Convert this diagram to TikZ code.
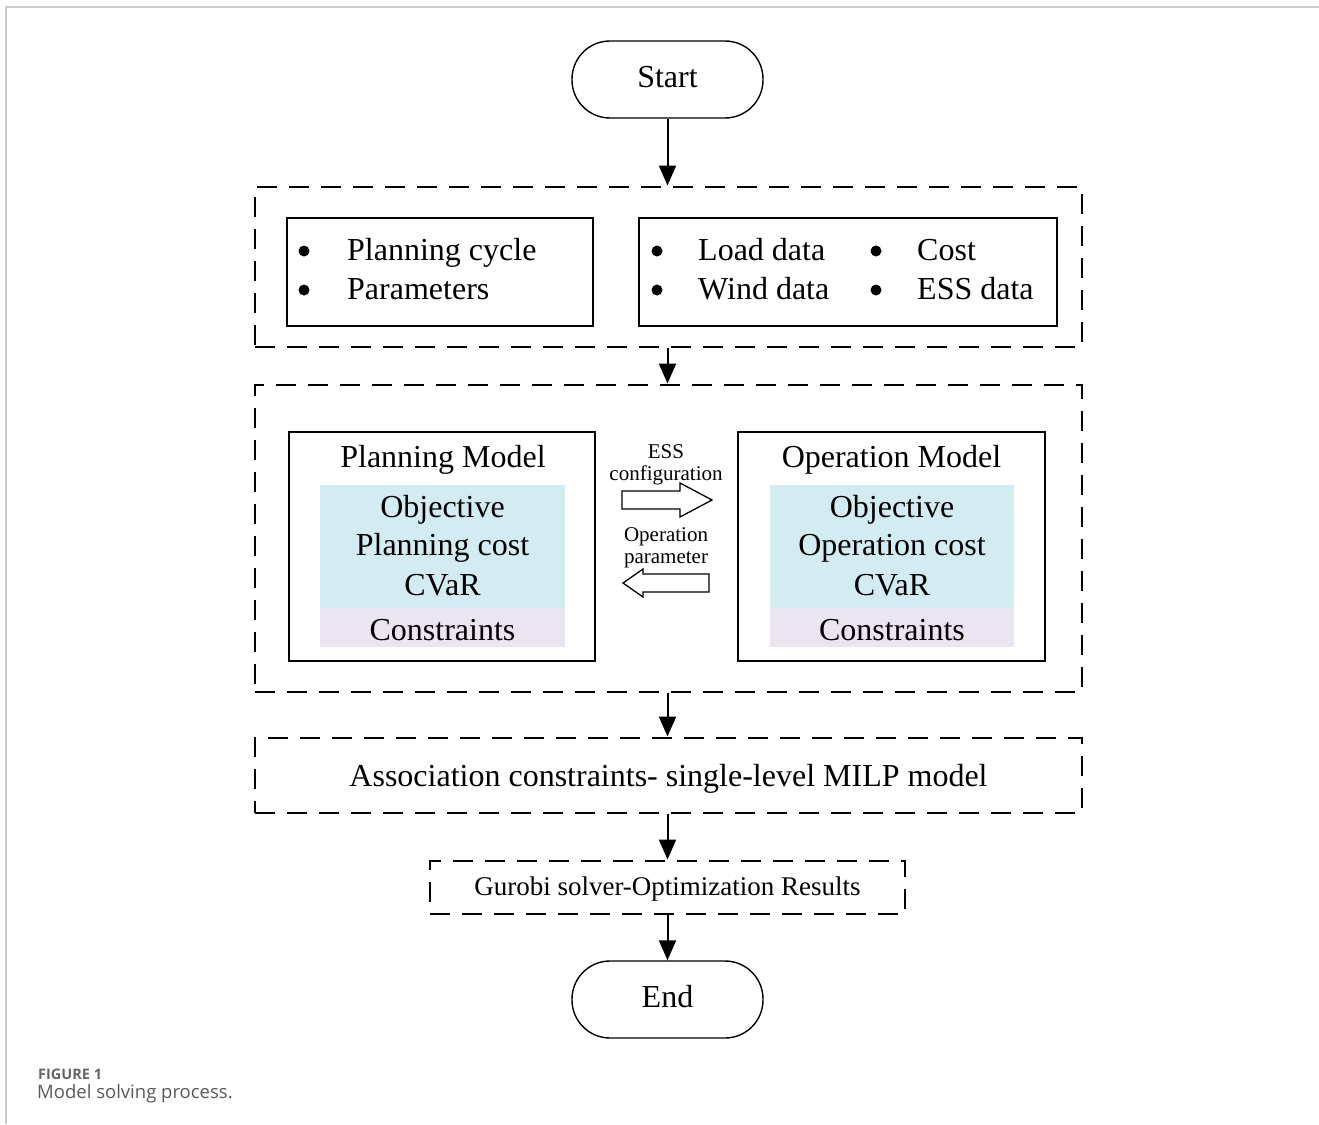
\documentclass[tikz,border=0pt]{standalone}
\usepackage{fontspec}
\setmainfont{Liberation Serif}
\newfontfamily\capfont{Open Sans}
\usetikzlibrary{arrows.meta,calc}
\definecolor{objcol}{RGB}{211,236,241}
\definecolor{concol}{RGB}{234,229,241}
\definecolor{framecol}{RGB}{204,204,204}
\begin{document}
\begin{tikzpicture}[x=1pt,y=-1pt,
  dbox/.style={draw, line width=2.9pt, dash pattern=on 20pt off 12pt, inner sep=0pt},
  sbox/.style={draw, line width=1.4pt, inner sep=0pt},
  term/.style={draw, line width=1.4pt, rounded corners=38pt, minimum width=191pt, minimum height=77pt, inner sep=0pt},
  arr/.style={line width=2pt, -{Triangle[length=20pt,width=17pt]}},
  txt/.style={anchor=base, inner sep=0pt, font=\fontsize{32}{38}\selectfont},
  ltxt/.style={anchor=base west, inner sep=0pt, font=\fontsize{32}{38}\selectfont},
  stxt/.style={anchor=base, inner sep=0pt, font=\fontsize{21}{25}\selectfont},
  bul/.style={circle, fill, inner sep=0pt, minimum size=11pt},
  hollow/.style={draw, line width=1.3pt, fill=white, line join=miter}
]
\useasboundingbox (0,0) rectangle (1319,1124);
% outer frame
\draw[framecol, line width=2pt] (6,1124) -- (6,7) -- (1319,7);

% terminals
\node[term] (start) at (667.5,79.5) {};
\node[txt] (starttxt) at (667.5,88) {Start};
\node[term] (end) at (667.5,999.5) {};
\node[txt] (endtxt) at (667.5,1007) {End};

% dashed boxes
\node[dbox, minimum width=827pt, minimum height=160pt] (box1) at (668.5,267) {};
\node[dbox, minimum width=827pt, minimum height=307pt] (box2) at (668.5,538.5) {};
\node[dbox, minimum width=827pt, minimum height=75pt] (box3) at (668.5,775.5) {};
\node[dbox, minimum width=475pt, minimum height=53pt] (box4) at (667.5,887.5) {};

% box 1 contents
\node[sbox, minimum width=306pt, minimum height=108pt] (inA) at (440,272) {};
\node[sbox, minimum width=418pt, minimum height=108pt] (inB) at (848,272) {};
\node[bul] (b1) at (304,251) {};
\node[ltxt] (t1) at (347,260) {Planning cycle};
\node[bul] (b2) at (304,290) {};
\node[ltxt] (t2) at (347,299) {Parameters};
\node[bul] (b3) at (657,251) {};
\node[ltxt] (t3) at (698,260) {Load data};
\node[bul] (b4) at (657,290) {};
\node[ltxt] (t4) at (698,299) {Wind data};
\node[bul] (b5) at (876,251) {};
\node[ltxt] (t5) at (917,260) {Cost};
\node[bul] (b6) at (876,290) {};
\node[ltxt] (t6) at (917,299) {ESS data};

% planning model
\node[sbox, minimum width=306pt, minimum height=229pt] (plan) at (442,546.5) {};
\fill[objcol] (320,485) rectangle (565,608);
\fill[concol] (320,608) rectangle (565,647);
\node[txt] (pt) at (443,467) {Planning Model};
\node[txt] (po) at (442.5,517) {Objective};
\node[txt] (pc) at (442.5,555) {Planning cost};
\node[txt] (pv) at (442.5,595) {CVaR};
\node[txt] (pk) at (442.5,640) {Constraints};

% operation model
\node[sbox, minimum width=307pt, minimum height=229pt] (oper) at (891.5,546.5) {};
\fill[objcol] (770,485) rectangle (1014,608);
\fill[concol] (770,608) rectangle (1014,647);
\node[txt] (ot) at (891.5,467) {Operation Model};
\node[txt] (oo) at (892,517) {Objective};
\node[txt] (oc) at (892,555) {Operation cost};
\node[txt] (ov) at (892,595) {CVaR};
\node[txt] (ok) at (892,640) {Constraints};

% middle exchange
\node[stxt] (m1) at (666,458) {ESS};
\node[stxt] (m2) at (666,480) {configuration};
\draw[hollow] (622,491) -- (680,491) -- (680,483) -- (712,500) -- (680,517) -- (680,509) -- (622,509) -- cycle;
\node[stxt] (m3) at (666,541) {Operation};
\node[stxt] (m4) at (666,563) {parameter};
\draw[hollow] (709,574) -- (643,574) -- (643,569) -- (623,583) -- (643,597) -- (643,592) -- (709,592) -- cycle;

% lower boxes text
\node[txt] (assoc) at (668.5,786) {Association constraints- single-level MILP model};
\node[anchor=base, inner sep=0pt, font=\fontsize{27}{32}\selectfont] (gur) at (667.5,895) {Gurobi solver-Optimization Results};

% connectors
\draw[arr] (start.south) -- (start.south |- box1.north);
\draw[arr] (start.south |- box1.south) -- (start.south |- box2.north);
\draw[arr] (start.south |- box2.south) -- (start.south |- box3.north);
\draw[arr] (start.south |- box3.south) -- (start.south |- box4.north);
\draw[arr] (start.south |- box4.south) -- (end.north);

% caption
\node[anchor=base west, inner sep=0pt, text=black!60, font=\capfont\bfseries\fontsize{14.5}{17}\selectfont] (fig) at (38,1079) {FIGURE 1};
\node[anchor=base west, inner sep=0pt, text=black!65, font=\capfont\fontsize{18.5}{22}\selectfont] (cap) at (37,1098) {Model solving process.};
\end{tikzpicture}
\end{document}
